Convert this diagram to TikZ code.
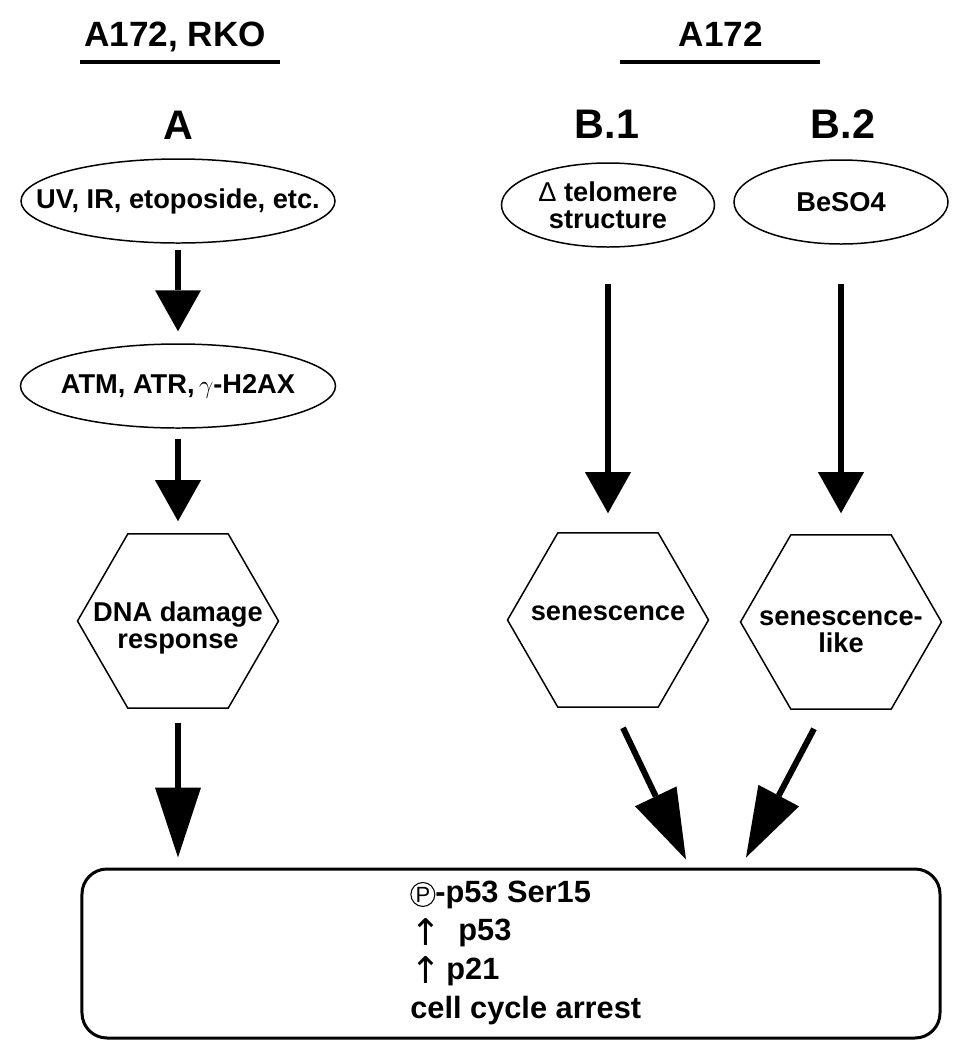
\documentclass[tikz,border=0pt]{standalone}
\usepackage{fontspec}
\setmainfont{Liberation Sans}
\newfontfamily\symfont{DejaVu Sans}
\usetikzlibrary{shapes.geometric,arrows.meta}
\newcommand{\circP}{\tikz[baseline=(cp.base)]\node[circle, draw, line width=0.6pt,
  inner sep=0.6pt, font=\mdseries\fontsize{12.5}{12.5}\selectfont] (cp) {P};}
\newcommand{\upar}{\raisebox{-2.5pt}{\symfont\mdseries\fontsize{21}{21}\selectfont ↑}}

\begin{document}
\begin{tikzpicture}[x=0.2mm, y=-0.2mm,
    oval/.style={ellipse, draw, line width=0.85pt, inner sep=0pt, minimum height=16.8mm},
    hexa/.style={regular polygon, regular polygon sides=6, draw,
      line width=0.85pt, inner sep=0pt, minimum size=40.2mm},
    txt/.style={font=\bfseries\fontsize{15.5}{15.2}\selectfont, align=center, inner sep=0pt},
    head/.style={font=\bfseries\fontsize{20}{20}\selectfont, inner sep=0pt, anchor=base},
    tag/.style={font=\bfseries\fontsize{23.5}{23.5}\selectfont, inner sep=0pt, anchor=base},
    arr/.style={line width=1.2mm, -{Triangle[width=9.2mm, length=8.2mm, line width=0pt]}},
    longarr/.style={line width=1.2mm, -{Triangle[width=9.2mm, length=14mm, line width=0pt]}}]
  \useasboundingbox (0,0) rectangle (962,1050);

  % headings
  \node[head] (hA) at (175,46) {A172, RKO};
  \draw[line width=0.9mm] (80,62) -- (280,62);
  \node[head] (hB) at (721,46) {A172};
  \draw[line width=0.9mm] (620,62) -- (820,62);
  \node[tag] (tA) at (178,139) {A};
  \node[tag] (tB1) at (607,138) {B.1};
  \node[tag] (tB2) at (843,138) {B.2};

  % column A
  \node[oval, minimum width=62.8mm] (uv) at (178,201) {};
  \node[txt] (uvt) at (uv) {UV, IR, etoposide, etc.};
  \node[oval, minimum width=63mm] (atm) at (178,386) {};
  \node[txt] (atmt) at (atm) {ATM, ATR,\,$\gamma$-H2AX};
  \node[hexa] (dna) at (178,621) {};
  \node[txt, anchor=base] (dnat) at ([shift={(0,27)}]dna.center) {DNA damage\\response};

  % columns B.1, B.2
  \node[oval, minimum width=42.6mm] (telo) at (608,205) {};
  \node[txt] (telot) at (telo) {{\mdseries Δ} telomere\\structure};
  \node[oval, minimum width=42.8mm] (beso) at (841,202) {};
  \node[txt] (besot) at (beso) {BeSO4};
  \node[hexa] (sen) at (608,620) {};
  \node[txt, anchor=base] (sent) at (sen) {senescence};
  \node[hexa] (senl) at (841,622) {};
  \node[txt, anchor=base] (senlt) at ([shift={(0,30)}]senl.center) {senescence-\\like};

  % result box
  \node[draw, line width=0.6mm, rounded corners=5mm, minimum width=171.6mm,
    minimum height=33.8mm] (res) at (511,953.5) {};
  \node[anchor=base west, align=left, inner sep=0pt,
    font=\bfseries\fontsize{17.5}{22}\selectfont] (rest) at (410,1018)
    {\circP-p53 Ser15\\\upar\ \ p53\\\upar\,p21\\cell cycle arrest};

  % arrows
  \draw[arr, shorten <=1.2mm, shorten >=2.4mm] (uv.south) -- (atm.north);
  \draw[arr, shorten <=2mm, shorten >=2.4mm] (atm.south) -- (dna.north);
  \draw[longarr, shorten <=2.8mm, shorten >=2mm] (dna.south) -- (dna.south |- res.north);
  \draw[arr, shorten <=7.2mm, shorten >=3.8mm] (telo.south) -- (sen.north);
  \draw[arr, shorten <=7.8mm, shorten >=4.2mm] (beso.south) -- (senl.north);
  \draw[longarr] ([shift={(15,20)}]sen.south) -- ([shift={(175,-8)}]res.north);
  \draw[longarr] ([shift={(-27,19)}]senl.south) -- ([shift={(235,-10)}]res.north);
\end{tikzpicture}
\end{document}
